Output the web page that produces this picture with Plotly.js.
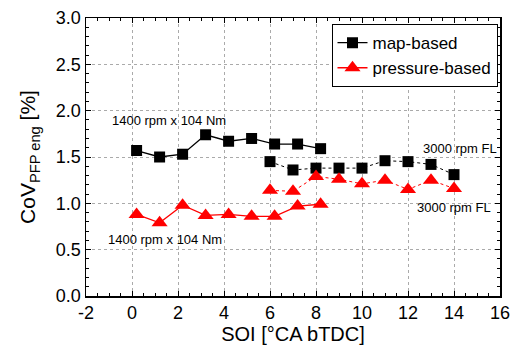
<!DOCTYPE html>
<html><head><meta charset="utf-8">
<script src="https://cdn.plot.ly/plotly-3.0.1.min.js"></script>
<style>html,body{margin:0;padding:0;background:#fff}#plot{width:511px;height:347px}</style>
</head><body><div id="plot"></div>
<script>
const soi1400 = [0.2, 1.2, 2.2, 3.2, 4.2, 5.2, 6.2, 7.2, 8.2];
const map1400 = [1.57, 1.50, 1.53, 1.74, 1.67, 1.70, 1.64, 1.64, 1.59];
const press1400 = [0.88, 0.79, 0.98, 0.87, 0.88, 0.86, 0.86, 0.97, 0.99];
const soi3000 = [6, 7, 8, 9, 10, 11, 12, 13, 14];
const map3000 = [1.45, 1.36, 1.38, 1.38, 1.38, 1.46, 1.45, 1.42, 1.31];
const press3000 = [1.14, 1.13, 1.29, 1.26, 1.21, 1.25, 1.15, 1.25, 1.16];
const xTicks = [-2, 0, 2, 4, 6, 8, 10, 12, 14, 16];
const yTicks = [0.0, 0.5, 1.0, 1.5, 2.0, 2.5, 3.0];

const sq = {symbol: 'square', size: 11, color: '#000'};
const tri = {symbol: 'triangle-up', size: 14, color: '#ff0000'};
const traces = [
  {x: soi1400, y: map1400, name: 'map-based', mode: 'lines+markers', line: {color: '#000', width: 1.3}, marker: sq},
  {x: soi1400, y: press1400, name: 'pressure-based', mode: 'lines+markers', line: {color: '#ff0000', width: 1.3}, marker: tri},
  {x: soi3000, y: map3000, name: 'map-based', showlegend: false, mode: 'lines+markers', line: {color: '#000', width: 1, dash: 'dot'}, marker: sq},
  {x: soi3000, y: press3000, name: 'pressure-based', showlegend: false, mode: 'lines+markers', line: {color: '#ff0000', width: 1, dash: 'dot'}, marker: tri}
];
const fnt = {family: 'Arial, sans-serif', color: '#000'};
const ann = (x, y, t) => ({x: x, y: y, text: t, showarrow: false, xref: 'x', yref: 'y', font: Object.assign({size: 13}, fnt)});
const layout = {
  width: 511, height: 347,
  margin: {l: 86, r: 11, t: 18, b: 51},
  paper_bgcolor: '#fff', plot_bgcolor: '#fff',
  font: fnt,
  showlegend: true,
  legend: {x: 0.593, y: 0.978, xanchor: 'left', yanchor: 'top', bordercolor: '#000', borderwidth: 1, bgcolor: '#fff',
           font: Object.assign({size: 17}, fnt), tracegroupgap: 0, itemwidth: 30},
  xaxis: {range: [-2, 16], tickvals: xTicks, ticktext: xTicks.map(String), showline: true, linecolor: '#000', linewidth: 1.5,
          mirror: 'ticks', ticks: 'inside', ticklen: 5, tickcolor: '#000', zeroline: false,
          showgrid: true, gridcolor: '#aaa', griddash: 'dot', gridwidth: 1,
          minor: {dtick: 0.5, ticks: 'inside', ticklen: 3, tickcolor: '#000', showgrid: false},
          tickfont: Object.assign({size: 18}, fnt),
          title: {text: 'SOI [°CA bTDC]', font: Object.assign({size: 20}, fnt), standoff: 3}},
  yaxis: {range: [0, 3], tickvals: yTicks, ticktext: yTicks.map(v => v.toFixed(1)), showline: true, linecolor: '#000', linewidth: 1.5,
          mirror: 'ticks', ticks: 'inside', ticklen: 5, tickcolor: '#000', zeroline: false,
          showgrid: true, gridcolor: '#aaa', griddash: 'dot', gridwidth: 1,
          minor: {dtick: 0.1, ticks: 'inside', ticklen: 3, tickcolor: '#000', showgrid: false},
          tickfont: Object.assign({size: 18}, fnt),
          title: {text: 'CoV<sub>PFP eng</sub> [%]', font: Object.assign({size: 21}, fnt), standoff: 14}},
  annotations: [
    ann(1.6, 1.89, '1400 rpm x 104 Nm'),
    ann(1.45, 0.61, '1400 rpm x 104 Nm'),
    ann(14.25, 1.59, '3000 rpm FL'),
    ann(14.0, 0.96, '3000 rpm FL')
  ]
};
Plotly.newPlot('plot', traces, layout, {staticPlot: true, displayModeBar: false});
</script></body></html>
